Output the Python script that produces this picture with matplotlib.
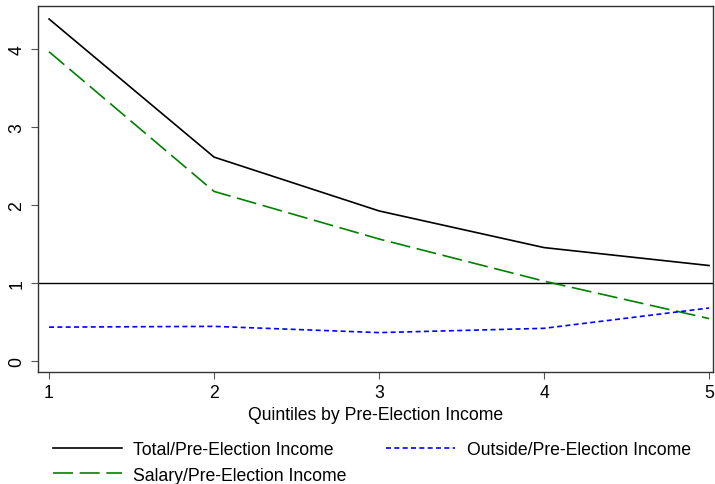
import matplotlib.pyplot as plt

plt.rcParams['font.family'] = ['Liberation Sans', 'DejaVu Sans']

# Values
quintiles = [1, 2, 3, 4, 5]
total_ratio = [4.38, 2.61, 1.92, 1.45, 1.22]
salary_ratio = [3.96, 2.17, 1.56, 1.02, 0.54]
outside_ratio = [0.43, 0.44, 0.36, 0.415, 0.675]
y_ticks = [0, 1, 2, 3, 4]

fig = plt.figure(figsize=(7.15, 4.85), dpi=100)
ax = fig.add_axes([38 / 715, 1 - 373 / 485, (713 - 38) / 715, (373 - 7) / 485])

ax.axhline(1, color='black', lw=1.0)
ax.plot(quintiles, total_ratio, color='black', lw=1.2,
        label='Total/Pre-Election Income')
ax.plot(quintiles, salary_ratio, color='#008000', lw=1.2,
        linestyle=(0, (12, 4)), label='Salary/Pre-Election Income')
ax.plot(quintiles, outside_ratio, color='#0000ff', lw=1.2,
        linestyle=(0, (3, 2)), label='Outside/Pre-Election Income')

ax.set_xlim(0.933, 5.024)
ax.set_ylim(-0.145, 4.547)
ax.set_xticks(quintiles)
ax.set_yticks(y_ticks)
ax.tick_params(axis='both', length=5, color='#555555', labelsize=12.7, pad=4)
for lbl in ax.get_yticklabels():
    lbl.set_rotation(90)
    lbl.set_va('center')
for sp in ax.spines.values():
    sp.set_color('#333333')
    sp.set_linewidth(1.0)

ax.set_xlabel('Quintiles by Pre-Election Income', fontsize=12.7, labelpad=3)

handles, labels = ax.get_legend_handles_labels()
fig.legend(handles, labels,
           loc='upper left', bbox_to_anchor=(53 / 715, 0.089), ncol=2,
           frameon=False, fontsize=12.7, handlelength=3.9, handletextpad=0.65,
           columnspacing=2.25, labelspacing=0.5, borderpad=0, borderaxespad=0)

fig.savefig('out.png', dpi=100)
